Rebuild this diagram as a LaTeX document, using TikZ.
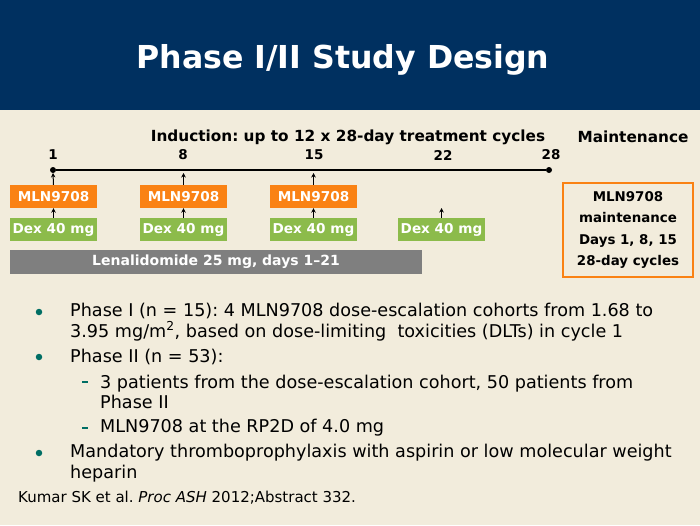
\documentclass[tikz,border=0pt]{standalone}
\usepackage{fontspec}
\usetikzlibrary{arrows.meta}
\setmainfont{DejaVu Sans}
\newfontfamily\bodyfont{DejaVu Sans}
\frenchspacing
\definecolor{navy}{RGB}{0,48,96}
\definecolor{bg}{RGB}{242,236,220}
\definecolor{orng}{RGB}{250,130,20}
\definecolor{grn}{RGB}{140,187,75}
\definecolor{gry}{RGB}{127,127,127}
\definecolor{teal}{RGB}{0,110,100}
\tikzset{
  obox/.style={fill=orng,text=white,font=\bfseries\fontsize{13.6}{15}\selectfont,minimum width=87pt,minimum height=23pt,inner sep=0pt},
  gbox/.style={fill=grn,text=white,font=\bfseries\fontsize{13.6}{15}\selectfont,minimum width=87pt,minimum height=23pt,inner sep=0pt},
  daylbl/.style={font=\bfseries\fontsize{13.5}{15}\selectfont,inner sep=0pt},
  hdr/.style={font=\bfseries\fontsize{15.3}{17}\selectfont,inner sep=0pt},
  arr/.style={-{Stealth[length=4.5pt,width=4.5pt]},line width=1pt},
  dot/.style={circle,fill=black,inner sep=0pt,minimum size=6pt},
  bul/.style={circle,fill=teal,inner sep=0pt,minimum size=6.5pt},
  dsh/.style={fill=teal,inner sep=0pt,minimum width=6pt,minimum height=1.3pt},
  body/.style={font=\bodyfont\fontsize{17.6}{20.5}\selectfont,anchor=west,inner sep=0pt,align=left}
}
\begin{document}
\begin{tikzpicture}[x=1pt,y=-1pt]
\useasboundingbox (0,0) rectangle (700,525);
\fill[bg] (0,0) rectangle (700,525);
\fill[navy] (0,0) rectangle (700,110);
\node[text=white,font=\bfseries\fontsize{31.6}{35}\selectfont,anchor=base,inner sep=0pt] (title) at (343,68) {Phase I/II Study Design};

\node[hdr] (ind) at (348,137) {Induction: up to 12 x 28-day treatment cycles};
\node[hdr] (mnt) at (633,137) {Maintenance};

\node[daylbl] (d1) at (53,155) {1};
\node[daylbl] (d8) at (183,155) {8};
\node[daylbl] (d15) at (314,155) {15};
\node[daylbl] (d22) at (443,155) {22};
\node[daylbl] (d28) at (551,155) {28};

\node[dot] (s) at (53,170) {};
\node[dot] (e) at (549,170) {};
\draw[line width=1.3pt] (s) -- (e);
\coordinate (t1) at (53,173);
\coordinate (t8) at (183.5,173);
\coordinate (t15) at (313.5,173);
\coordinate (t22) at (441.5,208);

\node[obox] (o1) at (53.5,196.5) {MLN9708};
\node[obox] (o8) at (183.5,196.5) {MLN9708};
\node[obox] (o15) at (313.5,196.5) {MLN9708};

\node[gbox] (g1) at (53.5,229.5) {Dex 40 mg};
\node[gbox] (g8) at (183.5,229.5) {Dex 40 mg};
\node[gbox] (g15) at (313.5,229.5) {Dex 40 mg};
\node[gbox] (g22) at (441.5,229.5) {Dex 40 mg};

\draw[arr] (o1.north) -- (t1);
\draw[arr] (o8.north) -- (t8);
\draw[arr] (o15.north) -- (t15);
\draw[arr] (g1.north) -- (o1.south);
\draw[arr] (g8.north) -- (o8.south);
\draw[arr] (g15.north) -- (o15.south);
\draw[arr] (g22.north) -- (t22);

\node[fill=gry,text=white,font=\bfseries\fontsize{14}{15}\selectfont,minimum width=412pt,minimum height=24pt,inner sep=0pt] (len) at (216,262) {Lenalidomide 25 mg, days 1--21};

\node[draw=orng,line width=1.5pt,fill=bg,minimum width=130pt,minimum height=94pt,inner sep=0pt,align=center,font=\bfseries\fontsize{13.4}{21.3}\selectfont] (mbox) at (628,230) {MLN9708\\maintenance\\Days 1, 8, 15\\28-day cycles};

\node[bul] (b1) at (39,312) {};
\node[body] (p1) at (70,322) {Phase I (n = 15): 4 MLN9708 dose-escalation cohorts from 1.68 to\\3.95 mg/m\textsuperscript{2}, based on dose-limiting\ \ toxicities (DLTs) in cycle 1};
\node[bul] (b2) at (39,357) {};
\node[body] (p2) at (70,357) {Phase II (n = 53):};
\node[dsh] (s1) at (85,382) {};
\node[body] (p3) at (100,392) {3 patients from the dose-escalation cohort, 50 patients from\\Phase II};
\node[dsh] (s2) at (85,428) {};
\node[body] (p4) at (100,428) {MLN9708 at the RP2D of 4.0 mg};
\node[bul] (b3) at (39,453) {};
\node[body] (p5) at (70,463) {Mandatory thromboprophylaxis with aspirin or low molecular weight\\heparin};
\node[font=\bodyfont\fontsize{15}{17}\selectfont,anchor=west,inner sep=0pt] (cite) at (18,498) {Kumar SK et al. \textit{Proc ASH} 2012;Abstract 332.};
\end{tikzpicture}
\end{document}
